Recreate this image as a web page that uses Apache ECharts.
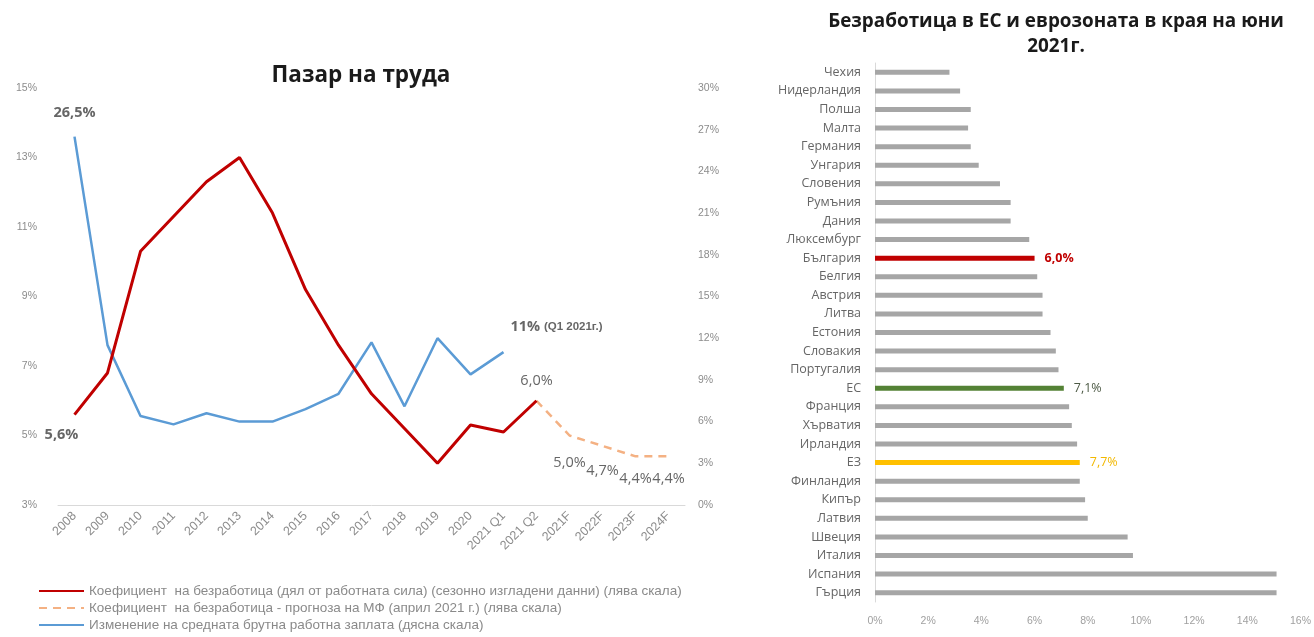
<!DOCTYPE html>
<html>
<head>
<meta charset="utf-8">
<script src="https://cdn.jsdelivr.net/npm/echarts@6/dist/echarts.min.js"></script>
<style>
  html, body { margin: 0; padding: 0; background: #fff; }
  #chart { width: 1314px; height: 637px; }
</style>
</head>
<body>
<div id="chart"></div>
<script>
// Labour market: periods on the horizontal axis
const periods = ['2008', '2009', '2010', '2011', '2012', '2013', '2014', '2015', '2016',
  '2017', '2018', '2019', '2020', '2021 Q1', '2021 Q2', '2021F', '2022F', '2023F', '2024F'];

// Unemployment rate, seasonally adjusted (left scale, %)
const unemployment = [5.6, 6.8, 10.3, 11.3, 12.3, 13.0, 11.4, 9.2, 7.6, 6.2, 5.2, 4.2, 5.3, 5.1, 6.0,
  null, null, null, null];

// Ministry of Finance forecast (left scale, %)
const forecast = [null, null, null, null, null, null, null, null, null, null, null, null, null, null,
  6.0, 5.0, 4.7, 4.4, 4.4];

// Change in average gross wage (right scale, %)
const wageGrowth = [26.5, 11.5, 6.4, 5.8, 6.6, 6.0, 6.0, 6.9, 8.0, 11.7, 7.1, 12.0, 9.4, 11.0,
  null, null, null, null, null];

// Unemployment in EU member states, end of June 2021 (%)
const countries = ['Чехия', 'Нидерландия', 'Полша', 'Малта', 'Германия', 'Унгария', 'Словения',
  'Румъния', 'Дания', 'Люксембург', 'България', 'Белгия', 'Австрия', 'Литва', 'Естония',
  'Словакия', 'Португалия', 'ЕС', 'Франция', 'Хърватия', 'Ирландия', 'ЕЗ', 'Финландия',
  'Кипър', 'Латвия', 'Швеция', 'Италия', 'Испания', 'Гърция'];
const countryRates = [2.8, 3.2, 3.6, 3.5, 3.6, 3.9, 4.7, 5.1, 5.1, 5.8, 6.0, 6.1, 6.3, 6.3, 6.6,
  6.8, 6.9, 7.1, 7.3, 7.4, 7.6, 7.7, 7.7, 7.9, 8.0, 9.5, 9.7, 15.1, 15.1];

const leftTicks = { min: 3, max: 15, interval: 2 };
const rightTicks = { min: 0, max: 30, interval: 3 };
const barTicks = { min: 0, max: 16, interval: 2 };

const legendNames = [
  'Коефициент  на безработица (дял от работната сила) (сезонно изгладени данни) (лява скала)',
  'Коефициент  на безработица - прогноза на МФ (април 2021 г.) (лява скала)',
  'Изменение на средната брутна работна заплата (дясна скала)'
];

const fmtPct = v => String(v.toFixed(1)).replace('.', ',') + '%';

const highlight = {
  'България': { color: '#C00000', label: '#C00000' },
  'ЕС': { color: '#548235', label: '#4d5a45' },
  'ЕЗ': { color: '#FFC000', label: '#F2B800' }
};

const barData = countries.map((c, i) => {
  const h = highlight[c];
  if (!h) return { value: countryRates[i] };
  return {
    value: countryRates[i],
    itemStyle: { color: h.color },
    label: {
      show: true, position: 'right', distance: 10,
      formatter: p => fmtPct(p.value),
      color: h.label, fontSize: 12.5, fontWeight: c === 'България' ? 'bold' : 'normal',
      fontFamily: 'Open Sans'
    }
  };
});

const labelFont = 'Liberation Sans';
const chart = echarts.init(document.getElementById('chart'), null, { renderer: 'canvas' });

chart.setOption({
  animation: false,
  textStyle: { fontFamily: labelFont },
  title: [
    {
      text: 'Пазар на труда', left: 356, top: 59, textAlign: 'center',
      textStyle: { fontSize: 22.5, fontWeight: 'bold', color: '#1a1a1a', fontFamily: 'Open Sans' }
    },
    {
      text: 'Безработица в ЕС и еврозоната в края на юни\n2021г.', left: 1051, top: 4, textAlign: 'center',
      textStyle: { fontSize: 18.9, fontWeight: 'bold', color: '#1a1a1a', fontFamily: 'Open Sans', lineHeight: 25 }
    }
  ],
  legend: {
    orient: 'vertical', left: 33, top: 579, height: 70, itemGap: 3, itemWidth: 45, itemHeight: 14,
    itemStyle: { opacity: 0 },
    textStyle: { color: '#8a8a8a', fontSize: 13.5, fontFamily: labelFont },
    data: legendNames
  },
  grid: [
    { left: 58, right: 629, top: 88, bottom: 132 },
    { left: 875, right: 13, top: 63, bottom: 35 }
  ],
  xAxis: [
    {
      type: 'category', gridIndex: 0, data: periods, boundaryGap: true,
      axisLine: { lineStyle: { color: '#d9d9d9' } }, axisTick: { show: false },
      axisLabel: { rotate: 45, color: '#8c8c8c', fontSize: 12.5, margin: 9, interval: 0 }
    },
    {
      type: 'value', gridIndex: 1, ...barTicks,
      splitLine: { show: false }, axisLine: { show: false }, axisTick: { show: false },
      axisLabel: { formatter: '{value}%', color: '#a0a0a0', fontSize: 10.5, margin: 14 }
    }
  ],
  yAxis: [
    {
      type: 'value', gridIndex: 0, ...leftTicks, splitLine: { show: false },
      axisLine: { show: false }, axisTick: { show: false },
      axisLabel: { formatter: '{value}%', color: '#8c8c8c', fontSize: 10.5, margin: 21 }
    },
    {
      type: 'value', gridIndex: 0, position: 'right', ...rightTicks, splitLine: { show: false },
      axisLine: { show: false }, axisTick: { show: false },
      axisLabel: { formatter: '{value}%', color: '#8c8c8c', fontSize: 10.5, margin: 13 }
    },
    {
      type: 'category', gridIndex: 1, data: countries, inverse: true,
      axisLine: { show: true, lineStyle: { color: '#d9d9d9' } }, axisTick: { show: false },
      axisLabel: { color: '#666666', fontSize: 12.5, fontFamily: 'Open Sans', margin: 14, interval: 0 }
    }
  ],
  series: [
    {
      name: legendNames[0],
      type: 'line', xAxisIndex: 0, yAxisIndex: 0, data: unemployment,
      symbol: 'none', lineStyle: { color: '#C00000', width: 3 }, itemStyle: { color: '#C00000' },
      z: 3
    },
    {
      name: legendNames[1],
      type: 'line', xAxisIndex: 0, yAxisIndex: 0, data: forecast,
      symbol: 'none', lineStyle: { color: '#F4B183', width: 2.5, type: [8, 6] },
      itemStyle: { color: '#F4B183' }, z: 2
    },
    {
      name: legendNames[2],
      type: 'line', xAxisIndex: 0, yAxisIndex: 1, data: wageGrowth,
      symbol: 'none', lineStyle: { color: '#5B9BD5', width: 2.5 }, itemStyle: { color: '#5B9BD5' },
      z: 2
    },
    // value labels on the lines, drawn from the same series values
    {
      type: 'scatter', xAxisIndex: 0, yAxisIndex: 0, silent: true, symbolSize: 0,
      data: [
        { value: [periods[0], unemployment[0]], label: { position: 'bottom', offset: [-13, 8], fontWeight: 'bold', fontSize: 14.5 } },
        { value: [periods[14], unemployment[14]], label: { position: 'top', distance: 12, fontSize: 14.5 } },
        { value: [periods[15], forecast[15]], label: { position: 'bottom', distance: 20, fontSize: 14.5 } },
        { value: [periods[16], forecast[16]], label: { position: 'bottom', distance: 17, fontSize: 14.5 } },
        { value: [periods[17], forecast[17]], label: { position: 'bottom', distance: 15, fontSize: 14.5 } },
        { value: [periods[18], forecast[18]], label: { position: 'bottom', distance: 15, fontSize: 14.5 } }
      ],
      label: {
        show: true, color: '#404040', fontFamily: 'Open Sans',
        formatter: p => fmtPct(p.value[1])
      },
      z: 5
    },
    {
      type: 'scatter', xAxisIndex: 0, yAxisIndex: 1, silent: true, symbolSize: 0,
      data: [
        { value: [periods[0], wageGrowth[0]], label: { position: 'top', distance: 16, formatter: p => fmtPct(p.value[1]) } },
        { value: [periods[13], wageGrowth[13]], label: {
            position: 'right', offset: [2, -25],
            formatter: p => '{b|' + p.value[1] + '%} {s|(Q1 2021г.)}'
          } }
      ],
      label: {
        show: true, color: '#404040', fontFamily: 'Open Sans', fontSize: 14.5, fontWeight: 'bold',
        rich: {
          b: { fontSize: 14.5, fontWeight: 'bold', color: '#404040', fontFamily: 'Open Sans' },
          s: { fontSize: 11.5, color: '#404040', fontFamily: 'Liberation Sans' }
        }
      },
      z: 5
    },
    {
      type: 'bar', xAxisIndex: 1, yAxisIndex: 2, data: barData, barWidth: 5,
      itemStyle: { color: '#A6A6A6' }, silent: true
    }
  ]
});
</script>
</body>
</html>
